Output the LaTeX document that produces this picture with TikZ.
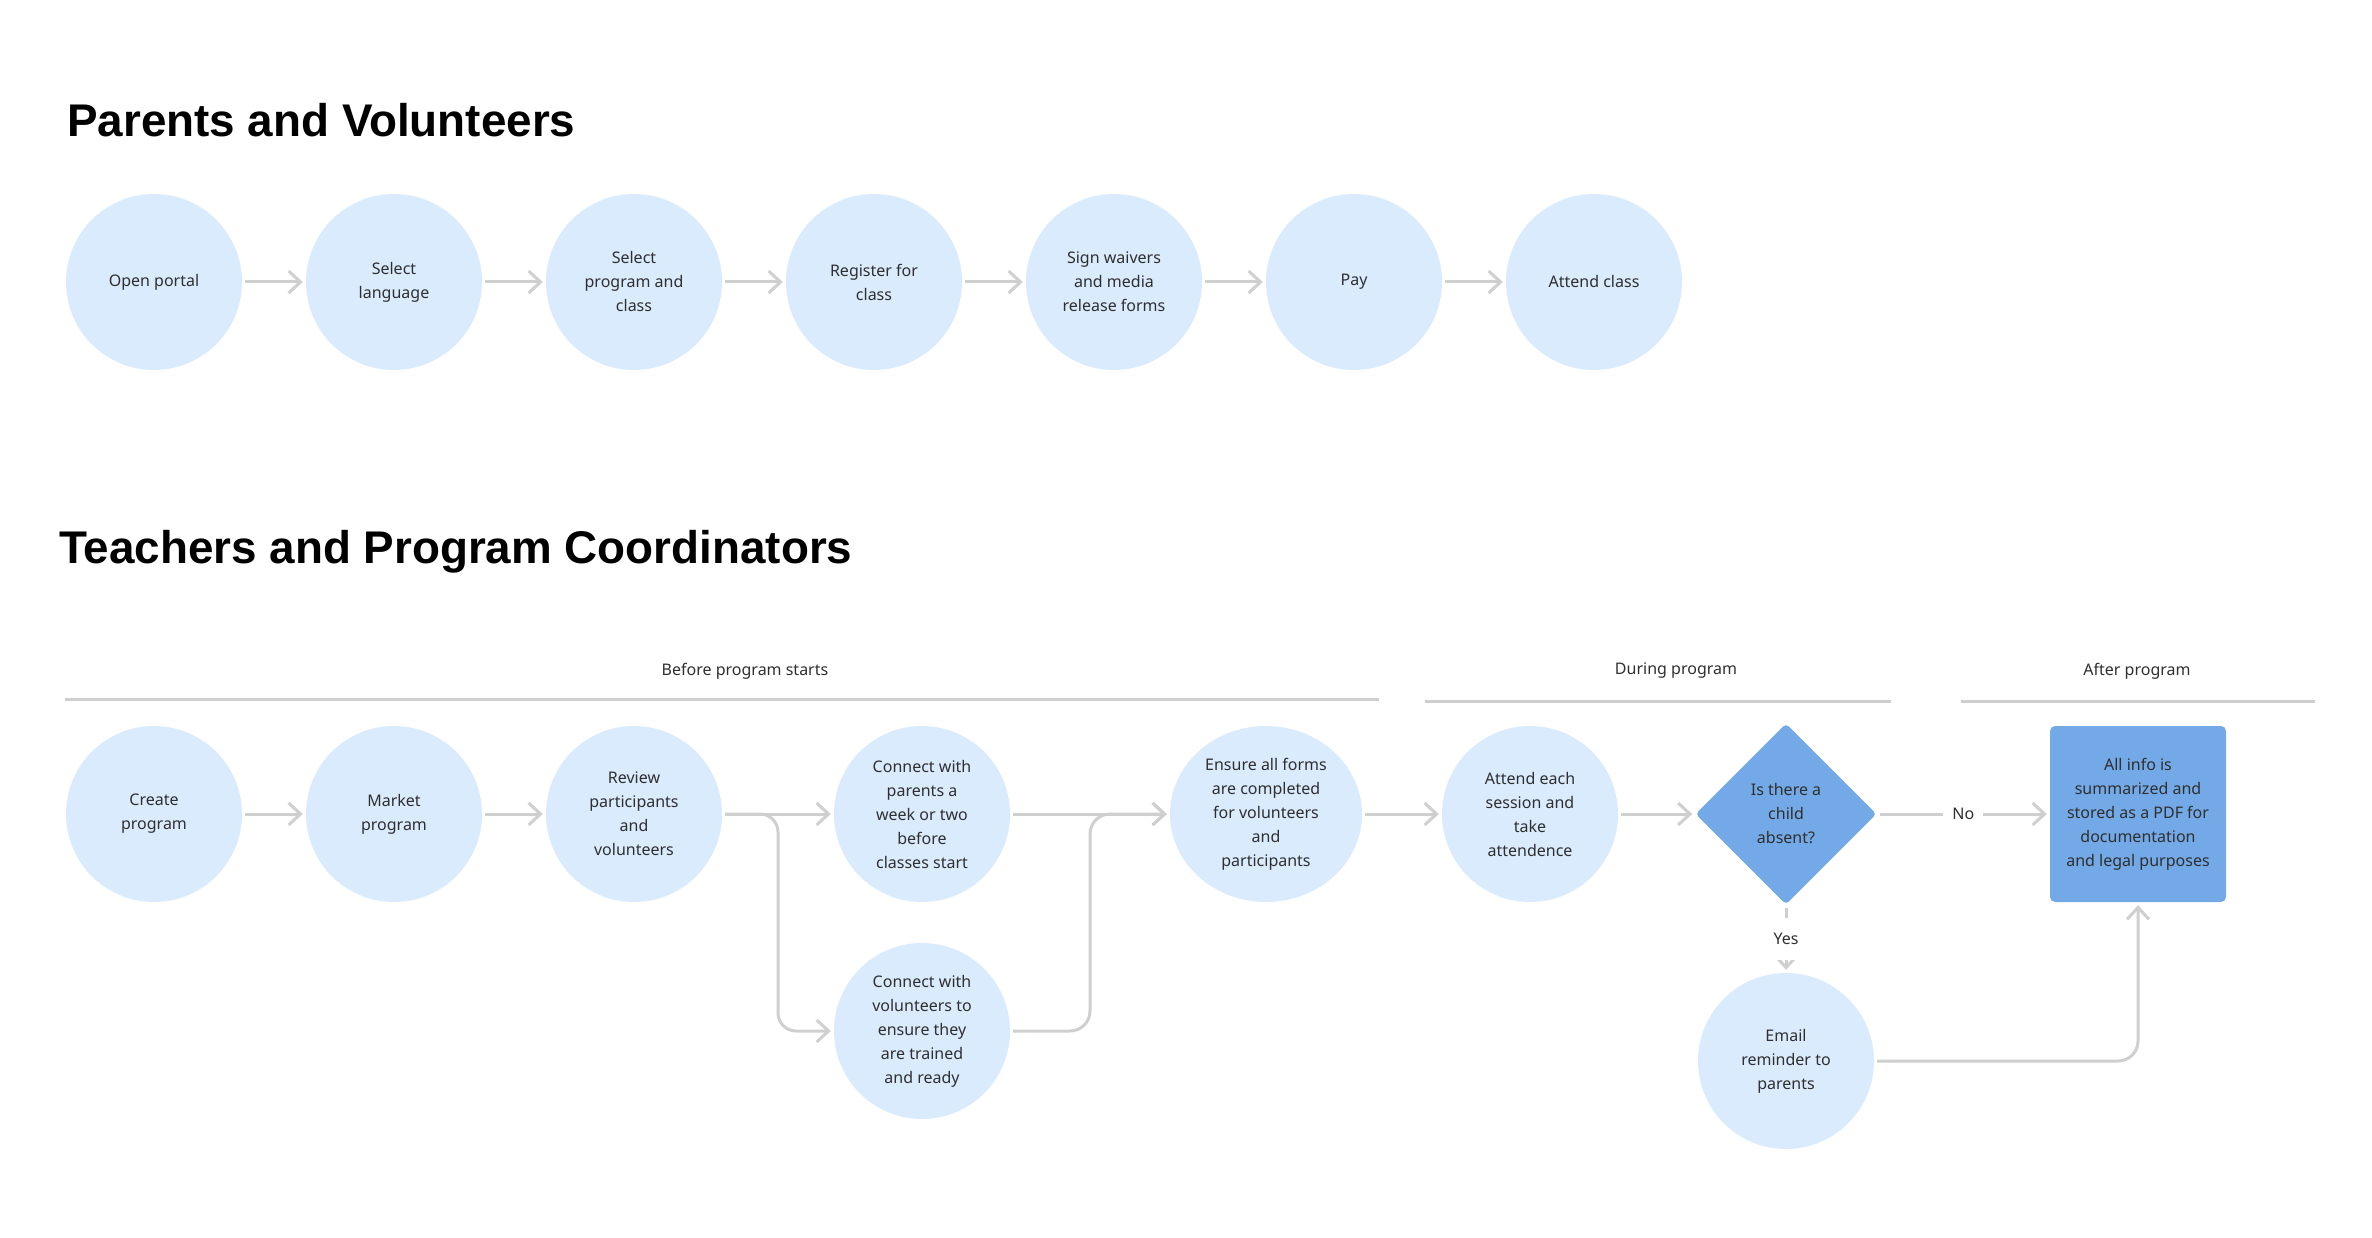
\documentclass[tikz,border=0pt]{standalone}
\usepackage{fontspec}
\setmainfont{Noto Sans}
\newfontfamily\myTitleFamily{Liberation Sans}
\usetikzlibrary{arrows.meta,shapes.geometric}
\definecolor{cfill}{HTML}{DAEBFD}
\definecolor{dfill}{HTML}{73A9E6}
\definecolor{lgray}{HTML}{CFCFCF}
\definecolor{txt}{HTML}{2F2F2F}
\newcommand\myBody{\fontsize{16}{24}\selectfont}
\newcommand\myTitle{\myTitleFamily\bfseries\fontsize{45.8}{52}\selectfont}
\tikzset{
  circ/.style={circle, fill=cfill, minimum size=176pt, inner sep=0pt, align=center, text=txt, font=\myBody},
  ell/.style={ellipse, fill=cfill, minimum width=192pt, minimum height=176pt, inner sep=0pt, align=center, text=txt, font=\myBody},
  dia/.style={diamond, fill=dfill, minimum width=181pt, minimum height=181pt, inner sep=0pt, align=center, text=txt, font=\myBody, rounded corners=4pt},
  rbox/.style={rectangle, fill=dfill, minimum width=176pt, minimum height=176pt, inner sep=0pt, align=center, text=txt, font=\myBody, rounded corners=5pt},
  arr/.style={draw=lgray, line width=3pt, -{Straight Barb[length=12pt,width=22pt]}, shorten <=3pt, shorten >=3pt},
  sepline/.style={draw=lgray, line width=3pt},
  seclabel/.style={text=txt, font=\myBody},
  edgelabel/.style={fill=white, text=txt, font=\myBody, inner xsep=9pt, inner ysep=15pt},
  ttl/.style={anchor=base west, text=black, font=\myTitle, inner sep=0pt}
}
\begin{document}
\begin{tikzpicture}[x=1pt,y=-1pt]
\useasboundingbox (0,0) rectangle (2372,1238);
% titles
\node[ttl] (title1) at (67,137) {Parents and Volunteers};
\node[ttl] (title2) at (59,563) {Teachers and Program Coordinators};
% top row
\node[circ] (p1) at (154,282) {Open portal};
\node[circ] (p2) at (394,282) {Select\\language};
\node[circ] (p3) at (634,282) {Select\\program and\\class};
\node[circ] (p4) at (874,282) {Register for\\class};
\node[circ] (p5) at (1114,282) {Sign waivers\\and media\\release forms};
\node[circ] (p6) at (1354,282) {Pay};
\node[circ] (p7) at (1594,282) {Attend class};
\foreach \a/\b in {p1/p2,p2/p3,p3/p4,p4/p5,p5/p6,p6/p7}
  \draw[arr] (\a) -- (\b);
% section labels
\node[seclabel] (lbefore) at (745,671) {Before program starts};
\node[seclabel] (lduring) at (1676,671) {During program};
\node[seclabel] (lafter) at (2137,671) {After program};
\draw[sepline] (65,699) -- (1379,699);
\draw[sepline] (1425,701) -- (1891,701);
\draw[sepline] (1961,701) -- (2315,701);
% bottom row
\node[circ] (t1) at (154,814) {Create\\program};
\node[circ] (t2) at (394,814) {Market\\program};
\node[circ] (t3) at (634,814) {Review\\participants\\and\\volunteers};
\node[circ] (t4) at (922,814) {Connect with\\parents a\\week or two\\before\\classes start};
\node[circ] (t5) at (922,1031) {Connect with\\volunteers to\\ensure they\\are trained\\and ready};
\node[ell] (t6) at (1266,814) {Ensure all forms\\are completed\\for volunteers\\and\\participants};
\node[circ] (t7) at (1530,814) {Attend each\\session and\\take\\attendence};
\node[dia] (t8) at (1786,814) {Is there a\\child\\absent?};
\node[rbox] (t9) at (2138,814) {All info is\\summarized and\\stored as a PDF for\\documentation\\and legal purposes};
\node[circ] (t10) at (1786,1061) {Email\\reminder to\\parents};
\coordinate (split) at (778,814);
\coordinate (join) at (1090,814);
\draw[arr] (t1) -- (t2);
\draw[arr] (t2) -- (t3);
\draw[arr] (t3) -- (t4);
\draw[arr, rounded corners=18pt] (t3) -- (split) |- (t5);
\draw[arr] (t4) -- (t6);
\draw[arr, rounded corners=20pt] (t5) -| (join) -- (t6);
\draw[arr] (t6) -- (t7);
\draw[arr] (t7) -- (t8);
\draw[arr] (t8) -- node[edgelabel] (lno) {No} (t9);
\draw[arr] (t8) -- node[edgelabel] (lyes) {Yes} (t10);
\draw[arr, rounded corners=20pt] (t10) -| (t9);
\end{tikzpicture}
\end{document}
